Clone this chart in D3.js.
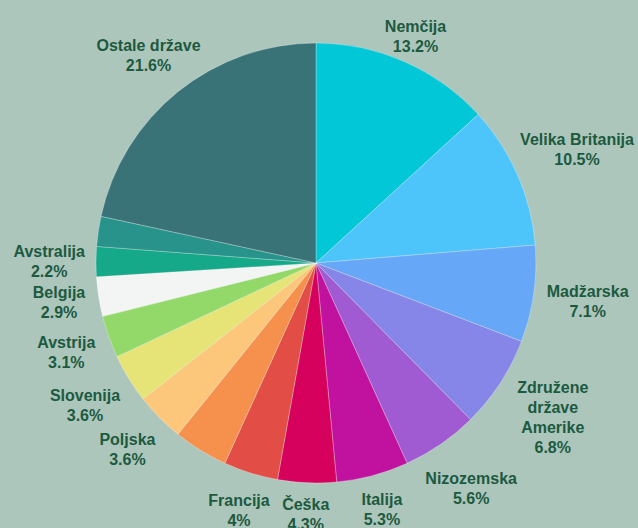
<!DOCTYPE html>
<html>
<head>
<meta charset="utf-8">
<script src="https://cdn.jsdelivr.net/npm/d3@7"></script>
<style>
  body { margin: 0; background: #adc6bc; }
  svg { display: block; }
</style>
</head>
<body>
<div id="chart"></div>
<script>
// Data (two slices carry no label in the original)
//=====================================================================
var countries = ["Nemčija", "Velika Britanija", "Madžarska", "Združene\ndržave\nAmerike",
  "Nizozemska", "Italija", "Češka", "Francija", "", "Poljska", "Slovenija",
  "Avstrija", "Belgija", "Avstralija", "", "Ostale države"];
var shares = [13.2, 10.5, 7.1, 6.8, 5.6, 5.3, 4.3, 4, 4, 3.6, 3.6, 3.1, 2.9, 2.2, 2.2, 21.6];
var colors = ["#02c7d7", "#4dc4fa", "#67a7f7", "#8685e8", "#a05ad2", "#c0129e",
  "#d5015d", "#e24d45", "#f5914d", "#fdc77b", "#e6e477", "#93d96a",
  "#f3f4f4", "#15a889", "#27938a", "#3a7377"];

// Set up the chart
//=================================
var svgWidth = 638;
var svgHeight = 528;
var cx = 316;
var cy = 263;
var radius = 220;
var lineHeight = 20;

var svg = d3.select("#chart")
  .append("svg")
  .attr("width", svgWidth)
  .attr("height", svgHeight);

svg.append("rect")
  .attr("width", svgWidth)
  .attr("height", svgHeight)
  .attr("fill", "#adc6bc");

var chartGroup = svg.append("g")
  .attr("transform", `translate(${cx}, ${cy})`);

var data = countries.map(function(c, i) {
  return {name: c, value: shares[i], color: colors[i]};
});

var pie = d3.pie()
  .sort(null)
  .value(d => d.value);

var arc = d3.arc()
  .innerRadius(0)
  .outerRadius(radius);

var arcs = pie(data);

// slices
chartGroup.selectAll(".slice")
  .data(arcs)
  .enter()
  .append("path")
  .attr("class", "slice")
  .attr("d", arc)
  .attr("fill", d => d.data.color)
  .attr("stroke", "rgba(255,255,255,0.35)")
  .attr("stroke-width", 0.8);

// labels outside the pie, pushed out along the mid angle
var labels = chartGroup.selectAll(".label")
  .data(arcs.filter(d => d.data.name !== ""))
  .enter()
  .append("text")
  .attr("class", "label")
  .attr("text-anchor", "middle")
  .attr("font-family", "'Liberation Sans', Arial, sans-serif")
  .attr("font-weight", "bold")
  .attr("font-size", "16px")
  .attr("fill", "#1c5a40");

labels.each(function(d) {
  var lines = d.data.name.split("\n").concat([d.data.value + "%"]);
  var text = d3.select(this);
  lines.forEach(function(line, i) {
    text.append("tspan")
      .attr("x", 0)
      .attr("y", (i - (lines.length - 1) / 2) * lineHeight)
      .attr("dominant-baseline", "central")
      .text(line);
  });

  var w = this.getBBox().width;
  var a = w / 2;
  var b = lines.length * lineHeight / 2;
  var mid = (d.startAngle + d.endAngle) / 2;
  var vx = Math.sin(mid);
  var vy = -Math.cos(mid);
  var push = vy > 0 ? b : b * 0.2;
  var dist = radius + 11 + a * Math.abs(vx) + push * Math.abs(vy);
  var x = vx * dist;
  var y = vy * dist;
  // keep the label inside the picture
  x = Math.min(x, svgWidth - cx - 2 - a);
  x = Math.max(x, -cx + 2 + a);
  text.attr("transform", `translate(${x}, ${y})`);
});
</script>
</body>
</html>
